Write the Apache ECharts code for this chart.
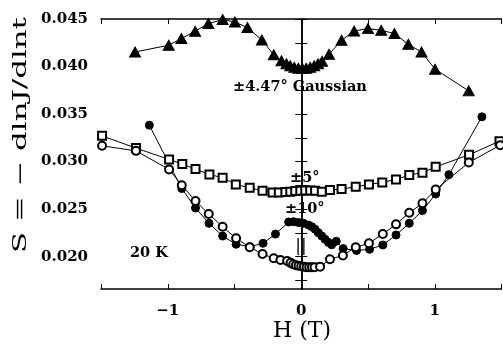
<!DOCTYPE html>
<html>
<head>
<meta charset="utf-8">
<script src="https://cdn.jsdelivr.net/npm/echarts@6/dist/echarts.min.js"></script>
<style>
  html, body { margin: 0; padding: 0; background: #fff; }
  #chart { width: 503px; height: 345px; }
</style>
</head>
<body>
<div id="chart"></div>
<script>
// axis ticks
var xTicks = [-1.5, -1, -0.5, 0, 0.5, 1, 1.5];
var yLabels = [0.020, 0.025, 0.030, 0.035, 0.040, 0.045];
var yTicks = [0.0175, 0.020, 0.0225, 0.025, 0.0275, 0.030, 0.0325, 0.035, 0.0375, 0.040, 0.0425, 0.045];

// +-4.47 deg Gaussian (filled triangles)
var gaussX = [-1.245, -0.993, -0.898, -0.795, -0.696, -0.589, -0.497, -0.403, -0.295, -0.206, -0.148,
  -0.111, -0.082, -0.052, -0.022, 0.007, 0.037, 0.067, 0.097, 0.126, 0.156, 0.208,
  0.302, 0.396, 0.500, 0.599, 0.698, 0.802, 0.901, 1.002, 1.255];
var gaussY = [0.04153, 0.04224, 0.04294, 0.04371, 0.04452, 0.04494, 0.04468, 0.04410, 0.04279, 0.04124, 0.04061,
  0.04029, 0.04008, 0.03993, 0.03982, 0.03982, 0.03982, 0.03993, 0.04008, 0.04029, 0.04056, 0.04129,
  0.04276, 0.04374, 0.04399, 0.04381, 0.04347, 0.04234, 0.04153, 0.03972, 0.03744];

// +-5 deg (open squares)
var fiveX = [-1.492, -1.238, -0.990, -0.891, -0.792, -0.688, -0.589, -0.490, -0.386, -0.290, -0.215,
  -0.168, -0.119, -0.082, -0.045, -0.007, 0.030, 0.067, 0.104, 0.154, 0.215,
  0.302, 0.408, 0.507, 0.607, 0.710, 0.809, 0.908, 1.007, 1.257, 1.485];
var fiveY = [0.03271, 0.03142, 0.03023, 0.02974, 0.02921, 0.02865, 0.02830, 0.02760, 0.02724, 0.02693, 0.02674,
  0.02676, 0.02680, 0.02683, 0.02690, 0.02693, 0.02697, 0.02697, 0.02693, 0.02683, 0.02701,
  0.02711, 0.02735, 0.02760, 0.02781, 0.02813, 0.02858, 0.02884, 0.02945, 0.03071, 0.03215];

// +-10 deg (filled circles)
var tenX = [-1.138, -0.895, -0.792, -0.691, -0.589, -0.488, -0.386, -0.286, -0.193, -0.094,
  -0.057, -0.020, 0.017, 0.054, 0.079, 0.104, 0.128, 0.154, 0.178, 0.203, 0.228, 0.262,
  0.314, 0.414, 0.512, 0.611, 0.710, 0.809, 0.908, 1.007, 1.106, 1.353];
var tenY = [0.03383, 0.02717, 0.02512, 0.02351, 0.02217, 0.02131, 0.02105, 0.02141, 0.02238, 0.02365,
  0.02368, 0.02359, 0.02351, 0.02333, 0.02315, 0.02288, 0.02252, 0.02217, 0.02183, 0.02150, 0.02125, 0.02162,
  0.02085, 0.02065, 0.02078, 0.02123, 0.02228, 0.02351, 0.02485, 0.02659, 0.02863, 0.03471];

// parallel field (open circles)
var parX = [-1.492, -1.238, -0.990, -0.895, -0.792, -0.693, -0.589, -0.488, -0.386, -0.290, -0.206,
  -0.156, -0.106, -0.08, -0.06, -0.04, -0.02, 0, 0.02, 0.04, 0.06, 0.08, 0.10, 0.141,
  0.215, 0.312, 0.408, 0.507, 0.611, 0.710, 0.809, 0.908, 1.007, 1.255, 1.49];
var parY = [0.03166, 0.03113, 0.02918, 0.02752, 0.02585, 0.02449, 0.02315, 0.02193, 0.02100, 0.02028, 0.01983,
  0.01965, 0.01955, 0.01935, 0.0192, 0.0191, 0.01905, 0.0190, 0.01895, 0.0189, 0.0189, 0.0189, 0.0189, 0.01895,
  0.01973, 0.02013, 0.02099, 0.02141, 0.02238, 0.02340, 0.02462, 0.02561, 0.02706, 0.02990, 0.03173];

var pairs = (xs, ys) => xs.map((x, i) => [x, ys[i]]);

var serif = 'DejaVu Serif';
var lineSeries = (data, symbol, size) => ({
  type: 'line',
  data: data,
  symbol: symbol,
  symbolSize: size,
  clip: false,
  animation: false,
  lineStyle: { color: '#000', width: 1 },
  itemStyle: { color: '#000', borderColor: '#000', borderWidth: 1 }
});

var xAxisBase = {
  type: 'value', min: -1.5, max: 1.5, interval: 0.5,
  axisLine: { lineStyle: { color: '#000', width: 1.5 } },
  axisTick: { inside: true, length: 5, lineStyle: { color: '#000' } },
  splitLine: { show: false }
};
var yAxisBase = {
  type: 'value', min: 0.0166, max: 0.045,
  axisLine: { show: true, lineStyle: { color: '#000', width: 1.5 } },
  axisTick: { inside: true, length: 6, customValues: yTicks, lineStyle: { color: '#000' } },
  splitLine: { show: false }
};

var chart = echarts.init(document.getElementById('chart'));
chart.setOption({
  backgroundColor: '#fff',
  animation: false,
  grid: { left: 101, right: 1.5, top: 19, bottom: 56, containLabel: false, outerBoundsMode: 'none' },
  xAxis: [
    Object.assign({}, xAxisBase, {
      position: 'bottom',
      axisLabel: {
        margin: 15, color: '#000', fontFamily: serif, fontWeight: 'bold', fontSize: 15,
        formatter: v => Number.isInteger(v) ? (v < 0 ? '\u2212' + Math.abs(v) : String(v)) : ''
      }
    }),
    Object.assign({}, xAxisBase, { position: 'top', axisLabel: { show: false } })
  ],
  yAxis: [
    Object.assign({}, yAxisBase, {
      position: 'left',
      axisLabel: {
        margin: 13, color: '#000', fontFamily: serif, fontWeight: 'bold', fontSize: 15,
        customValues: yLabels,
        formatter: v => v.toFixed(3)
      }
    }),
    Object.assign({}, yAxisBase, { position: 'right', axisLabel: { show: false } })
  ],
  series: [
    lineSeries(pairs(gaussX, gaussY), 'triangle', [11, 10]),
    lineSeries(pairs(fiveX, fiveY), 'emptyRect', 8),
    lineSeries(pairs(tenX, tenY), 'circle', 8),
    lineSeries(pairs(parX, parY), 'emptyCircle', 8)
  ],
  graphic: [
    {
      type: 'text', x: 21, y: 135, rotation: Math.PI / 2, scaleX: 1.62,
      style: { text: 'S = \u2212 dlnJ/dlnt', font: '19px "DejaVu Serif"', fill: '#000', textAlign: 'center', textVerticalAlign: 'middle' }
    },
    {
      type: 'text', x: 302, y: 331,
      style: { text: 'H (T)', font: '22px "DejaVu Serif"', fill: '#000', textAlign: 'center', textVerticalAlign: 'middle' }
    },
    {
      type: 'text', x: 233, y: 87,
      style: { text: '\u00b14.47\u00b0 Gaussian', font: 'bold 14.5px "DejaVu Serif"', fill: '#000', textAlign: 'left', textVerticalAlign: 'middle' }
    },
    {
      type: 'text', x: 290, y: 178,
      style: { text: '\u00b15\u00b0', font: 'bold 14.5px "DejaVu Serif"', fill: '#000', textAlign: 'left', textVerticalAlign: 'middle' }
    },
    {
      type: 'text', x: 285, y: 209,
      style: { text: '\u00b110\u00b0', font: 'bold 14.5px "DejaVu Serif"', fill: '#000', textAlign: 'left', textVerticalAlign: 'middle' }
    },
    {
      type: 'text', x: 301, y: 247,
      style: { text: '||', font: '17px "DejaVu Serif"', fill: '#000', textAlign: 'center', textVerticalAlign: 'middle' }
    },
    {
      type: 'text', x: 130, y: 253,
      style: { text: '20 K', font: 'bold 14.5px "DejaVu Serif"', fill: '#000', textAlign: 'left', textVerticalAlign: 'middle' }
    }
  ]
});
</script>
</body>
</html>
